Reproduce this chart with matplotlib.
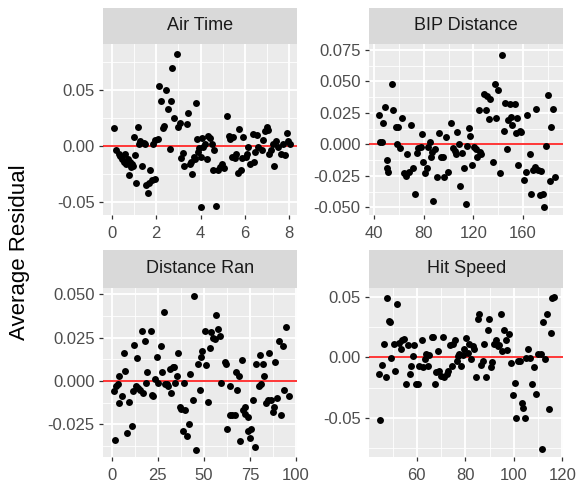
"""Average residual against four batted-ball features, one panel each."""
import matplotlib
matplotlib.use("Agg")
import matplotlib.pyplot as plt
from matplotlib.ticker import FixedLocator, FormatStrFormatter, AutoMinorLocator

plt.rcParams["font.family"] = ["Liberation Sans", "DejaVu Sans"]
plt.rcParams["axes.unicode_minus"] = False

# Air Time
air_time_x = [0.08, 0.20, 0.30, 0.38, 0.45, 0.53, 0.60, 0.65, 0.71, 0.75, 0.80, 0.86, 0.90,
              0.95, 0.98, 1.05, 1.10, 1.16, 1.22, 1.28, 1.35, 1.43, 1.50, 1.55, 1.61, 1.65,
              1.73, 1.80, 1.85, 1.95, 1.95, 2.06, 2.13, 2.21, 2.30, 2.36, 2.42, 2.52, 2.60,
              2.66, 2.73, 2.78, 2.93, 2.97, 3.05, 3.12, 3.20, 3.26, 3.38, 3.45, 3.50, 3.56,
              3.60, 3.68, 3.75, 3.80, 3.86, 3.90, 3.95, 4.02, 4.08, 4.13, 4.20, 4.28, 4.35,
              4.02, 4.43, 4.50, 4.58, 4.61, 4.70, 4.80, 4.88, 4.95, 5.06, 5.18, 5.26, 5.33,
              5.41, 5.48, 5.56, 5.60, 5.71, 5.75, 5.81, 5.86, 5.93, 6.05, 6.11, 6.16, 6.23,
              6.35, 6.41, 6.46, 6.53, 6.61, 6.76, 6.83, 6.91, 6.98, 7.06, 7.10, 7.16, 7.25,
              7.33, 7.40, 7.51, 7.61, 7.70, 7.81, 7.88, 7.96, 8.03]
air_time_y = [0.016, -0.004, -0.007, -0.009, -0.012, -0.014, -0.007, -0.016, -0.012, -0.026,
              -0.014, -0.019, -0.016, -0.018, 0.008, -0.008, -0.033, 0.017, 0.002, 0.004,
              -0.018, 0.003, 0.002, -0.035, -0.042, -0.033, -0.022, -0.031, 0.002, -0.030,
              0.005, 0.006, 0.054, 0.040, 0.016, 0.018, 0.050, 0.033, -0.003, 0.040, 0.070,
              0.025, 0.083, 0.017, 0.021, -0.011, -0.006, -0.018, 0.020, 0.030, -0.016,
              -0.014, -0.025, -0.010, -0.012, 0.039, 0.006, -0.005, -0.002, -0.010, 0.007,
              -0.001, 0.002, -0.012, 0.009, -0.055, 0.007, 0.002, -0.022, -0.004, -0.054,
              -0.022, -0.019, -0.016, -0.020, 0.027, 0.009, 0.006, -0.010, 0.008, -0.011,
              -0.007, -0.024, 0.015, -0.022, -0.011, 0.008, -0.010, -0.007, -0.001, -0.016,
              0.011, -0.014, -0.005, 0.010, -0.001, -0.004, 0.005, 0.013, 0.017, 0.014,
              -0.007, -0.004, 0.002, -0.018, 0.004, -0.001, -0.007, 0.002, -0.008, 0.012,
              0.004, 0.002]

# BIP Distance
bip_x = [43.8, 44.8, 46.2, 47.5, 48.8, 50.2, 50.7, 51.5, 54.2, 55.5, 57.4, 58.2, 59.6, 60.9,
         62.8, 64.1, 65.4, 66.8, 68.4, 70.0, 71.6, 72.9, 74.3, 75.6, 77.5, 78.6, 79.6, 80.9,
         82.3, 83.7, 85.0, 85.8, 86.9, 87.7, 89.0, 90.4, 92.5, 94.1, 95.2, 96.3, 97.9, 99.7,
         102.4, 103.8, 105.1, 106.4, 107.2, 108.3, 109.6, 111.0, 112.3, 113.9, 115.0, 116.6,
         117.7, 118.8, 120.4, 122.0, 123.3, 124.4, 125.2, 126.5, 128.7, 130.0, 131.3, 132.4,
         133.8, 135.9, 137.2, 138.6, 139.9, 141.3, 143.4, 144.5, 145.8, 147.2, 148.0, 149.3,
         150.6, 151.4, 153.3, 154.1, 155.2, 156.0, 157.3, 158.7, 160.5, 162.2, 163.5, 165.4,
         166.7, 168.0, 169.4, 170.7, 172.1, 173.4, 174.7, 176.1, 176.9, 178.2, 180.1, 182.0,
         182.8, 184.1, 185.5]
bip_y = [0.023, 0.002, 0.002, 0.017, 0.030, -0.019, -0.012, -0.022, 0.048, 0.027, 0.014,
         0.000, 0.014, -0.003, 0.021, -0.023, -0.025, -0.008, -0.022, 0.015, -0.019, -0.039,
         -0.007, -0.003, -0.002, 0.008, -0.014, -0.023, -0.019, -0.002, 0.002, -0.010,
         -0.006, -0.045, -0.004, -0.026, 0.009, -0.010, -0.010, -0.026, 0.006, -0.022,
         0.017, -0.003, -0.005, -0.008, 0.010, 0.000, -0.033, -0.007, -0.019, -0.047,
         -0.001, 0.013, 0.007, -0.016, -0.002, -0.004, -0.010, 0.027, -0.006, -0.008,
         0.040, 0.027, 0.038, 0.020, 0.036, -0.014, 0.048, 0.021, 0.043, -0.023, 0.071,
         0.011, 0.033, -0.004, 0.019, 0.032, 0.022, 0.015, 0.032, 0.009, 0.021, -0.016,
         0.011, 0.010, -0.028, -0.022, 0.023, -0.008, -0.039, -0.020, -0.018, 0.028,
         -0.020, -0.040, -0.021, -0.039, -0.050, -0.001, 0.039, -0.029, 0.014, 0.028,
         -0.026]

# Distance Ran
ran_x = [0.9, 1.8, 2.3, 3.1, 3.6, 4.1, 5.4, 6.3, 7.2, 8.1, 9.0, 10.8, 11.4, 12.1, 13.0, 13.5,
         14.4, 15.3, 16.2, 17.1, 17.8, 18.6, 19.3, 21.1, 21.6, 22.5, 23.4, 24.3, 25.2, 26.5,
         27.0, 28.3, 28.8, 29.7, 30.6, 31.5, 32.1, 33.0, 33.7, 34.2, 35.1, 36.0, 36.9, 37.8,
         38.4, 39.1, 39.6, 40.9, 42.0, 42.7, 43.8, 44.5, 45.9, 46.8, 47.7, 48.5, 49.2, 50.5,
         51.4, 52.3, 53.2, 54.1, 55.0, 55.9, 56.8, 57.7, 58.6, 59.5, 61.3, 62.2, 62.7, 64.0,
         64.3, 65.4, 66.7, 67.2, 67.9, 69.0, 69.4, 70.8, 71.5, 72.1, 72.6, 73.9, 73.9, 75.1,
         75.7, 76.6, 77.5, 78.4, 79.8, 80.5, 81.1, 82.0, 82.9, 83.8, 84.7, 85.6, 86.5, 87.4,
         87.9, 88.8, 89.5, 91.0, 91.9, 92.8, 93.7, 94.6, 96.0]
ran_y = [-0.006, -0.034, -0.003, -0.002, 0.003, -0.013, -0.009, 0.016, 0.006, -0.030,
         -0.012, -0.026, -0.006, 0.021, -0.003, 0.013, -0.004, -0.005, 0.029, -0.007,
         0.023, -0.001, 0.005, 0.029, -0.008, -0.009, 0.001, 0.014, -0.001, 0.020, 0.005,
         0.040, -0.002, -0.002, -0.003, 0.007, -0.007, 0.008, 0.008, -0.001, 0.003, 0.016,
         -0.015, -0.016, -0.029, -0.001, -0.017, -0.032, -0.025, 0.004, -0.011, 0.049,
         -0.040, 0.010, -0.005, 0.014, 0.017, 0.029, 0.009, -0.012, 0.019, 0.028, 0.025,
         0.024, 0.038, 0.030, 0.026, -0.001, 0.011, 0.010, -0.028, -0.003, -0.020, -0.020,
         -0.020, 0.005, -0.005, 0.003, -0.035, 0.012, -0.017, -0.015, -0.019, -0.021,
         -0.029, -0.033, -0.028, -0.011, -0.038, 0.010, -0.003, 0.015, -0.002, 0.010, 0.003,
         -0.013, -0.011, 0.016, -0.011, -0.018, -0.015, 0.011, -0.010, 0.023, -0.020,
         0.020, -0.005, 0.031, -0.009]

# Hit Speed
speed_x = [44.2, 44.9, 45.8, 46.4, 47.1, 47.8, 48.4, 49.0, 49.5, 50.4, 51.2, 51.9, 52.6, 53.3,
           53.9, 54.9, 55.6, 56.3, 57.0, 57.7, 58.4, 59.0, 59.5, 60.4, 61.1, 62.1, 62.5, 63.2,
           63.8, 64.5, 65.2, 66.2, 66.8, 67.3, 67.9, 68.6, 69.3, 70.0, 70.7, 71.4, 72.3, 73.0,
           73.7, 74.5, 75.1, 75.9, 76.4, 76.8, 77.5, 78.2, 78.9, 79.6, 80.3, 81.0, 81.6, 82.3,
           83.0, 83.7, 84.4, 85.1, 85.8, 86.4, 87.1, 87.8, 88.5, 89.2, 89.9, 90.5, 91.2, 91.9,
           92.6, 93.3, 94.0, 94.7, 95.3, 96.0, 96.7, 97.4, 98.1, 99.0, 99.7, 100.5, 101.1,
           101.8, 102.6, 103.3, 104.0, 104.5, 105.2, 106.0, 106.7, 107.7, 108.4, 109.0, 110.1,
           111.1, 111.5, 112.2, 112.9, 113.8, 114.5, 115.2, 115.9, 116.6]
speed_y = [-0.014, -0.052, -0.006, 0.011, -0.016, 0.049, 0.030, 0.029, -0.0005, 0.011,
           -0.011, 0.044, 0.012, 0.007, 0.014, 0.015, -0.022, 0.010, -0.014, -0.007, 0.001,
           0.010, -0.022, -0.022, -0.007, 0.014, -0.008, -0.001, 0.003, -0.007, 0.002, 0.017,
           0.017, -0.022, -0.012, 0.005, -0.011, -0.015, 0.017, -0.016, -0.014, -0.011,
           0.010, -0.007, 0.011, 0.014, -0.003, 0.001, 0.003, -0.007, 0.002, 0.007, 0.016,
           0.004, 0.011, -0.001, 0.009, 0.007, -0.016, 0.032, 0.036, -0.006, -0.003, 0.011,
           -0.016, 0.023, 0.032, -0.008, -0.004, 0.011, 0.014, 0.009, 0.010, 0.036, 0.005,
           0.023, 0.014, 0.006, 0.019, -0.005, -0.031, -0.021, -0.050, -0.003, -0.003,
           -0.038, -0.042, -0.050, -0.0005, 0.007, -0.0005, -0.022, -0.008, -0.030, 0.003,
           0.003, -0.076, 0.029, -0.001, 0.036, -0.043, 0.020, 0.049, 0.050]

titles = ["Air Time", "BIP Distance", "Distance Ran", "Hit Speed"]
xs = [air_time_x, bip_x, ran_x, speed_x]
ys = [air_time_y, bip_y, ran_y, speed_y]
x_ticks = [[0, 2, 4, 6, 8], [40, 80, 120, 160], [0, 25, 50, 75, 100], [60, 80, 100, 120]]
y_ticks = [[-0.05, 0.0, 0.05],
           [-0.05, -0.025, 0.0, 0.025, 0.05, 0.075],
           [-0.025, 0.0, 0.025, 0.05],
           [-0.05, 0.0, 0.05]]
y_formats = ["%.2f", "%.3f", "%.3f", "%.2f"]

# layout (pixels of a 576x484 canvas): panel left/top/right/bottom, strip top
W, H = 576, 484
panel_px = [(103.3, 43.5, 297, 215), (369.3, 43.5, 563, 215),
            (103.3, 287.5, 297, 457), (369.3, 287.5, 563, 457)]
strip_top = [8.3, 8.3, 250, 250]
x_limits = [(-0.39, 8.35), (36.2, 192.2), (-4.7, 100.6), (40.4, 120.3)]
y_limits = [(-0.062, 0.092), (-0.056, 0.080), (-0.044, 0.054), (-0.0823, 0.0577)]


def draw_panel(fig, i):
    l, t, r, b = panel_px[i]
    ax = fig.add_axes([l / W, 1 - b / H, (r - l) / W, (b - t) / H])
    ax.set_facecolor("#EBEBEB")
    for s in ax.spines.values():
        s.set_visible(False)

    ax.axhline(0, color="#FF0000", lw=1.1, zorder=2)
    ax.scatter(xs[i], ys[i], s=25, color="black", linewidths=0, zorder=3)

    ax.set_xlim(*x_limits[i])
    ax.set_ylim(*y_limits[i])
    ax.xaxis.set_major_locator(FixedLocator(x_ticks[i]))
    ax.yaxis.set_major_locator(FixedLocator(y_ticks[i]))
    ax.yaxis.set_major_formatter(FormatStrFormatter(y_formats[i]))
    ax.xaxis.set_minor_locator(AutoMinorLocator(2))
    ax.yaxis.set_minor_locator(AutoMinorLocator(2))

    ax.grid(which="major", color="white", lw=1.3, zorder=0)
    ax.grid(which="minor", color="white", lw=0.6, zorder=0)
    ax.set_axisbelow(True)
    ax.tick_params(which="major", length=3.2, width=0.9, color="#333333",
                   labelcolor="#4D4D4D", labelsize=12)
    ax.tick_params(axis="x", pad=4.5)
    ax.tick_params(axis="y", pad=3)
    ax.tick_params(which="minor", length=0)

    # facet strip
    st = strip_top[i]
    sax = fig.add_axes([l / W, 1 - t / H, (r - l) / W, (t - st) / H])
    sax.set_facecolor("#D9D9D9")
    sax.set_xticks([])
    sax.set_yticks([])
    for s in sax.spines.values():
        s.set_visible(False)
    sax.text(0.5, 0.5, titles[i], ha="center", va="center", fontsize=13,
             color="#1A1A1A", transform=sax.transAxes)
    return ax


if __name__ == "__main__":
    fig = plt.figure(figsize=(W / 100, H / 100), dpi=100)
    for i in range(4):
        draw_panel(fig, i)
    fig.text(20 / W, 1 - 252 / H, "Average Residual", rotation=90, ha="center",
             va="center", fontsize=16, color="black")
    fig.savefig("out.png", dpi=100)
